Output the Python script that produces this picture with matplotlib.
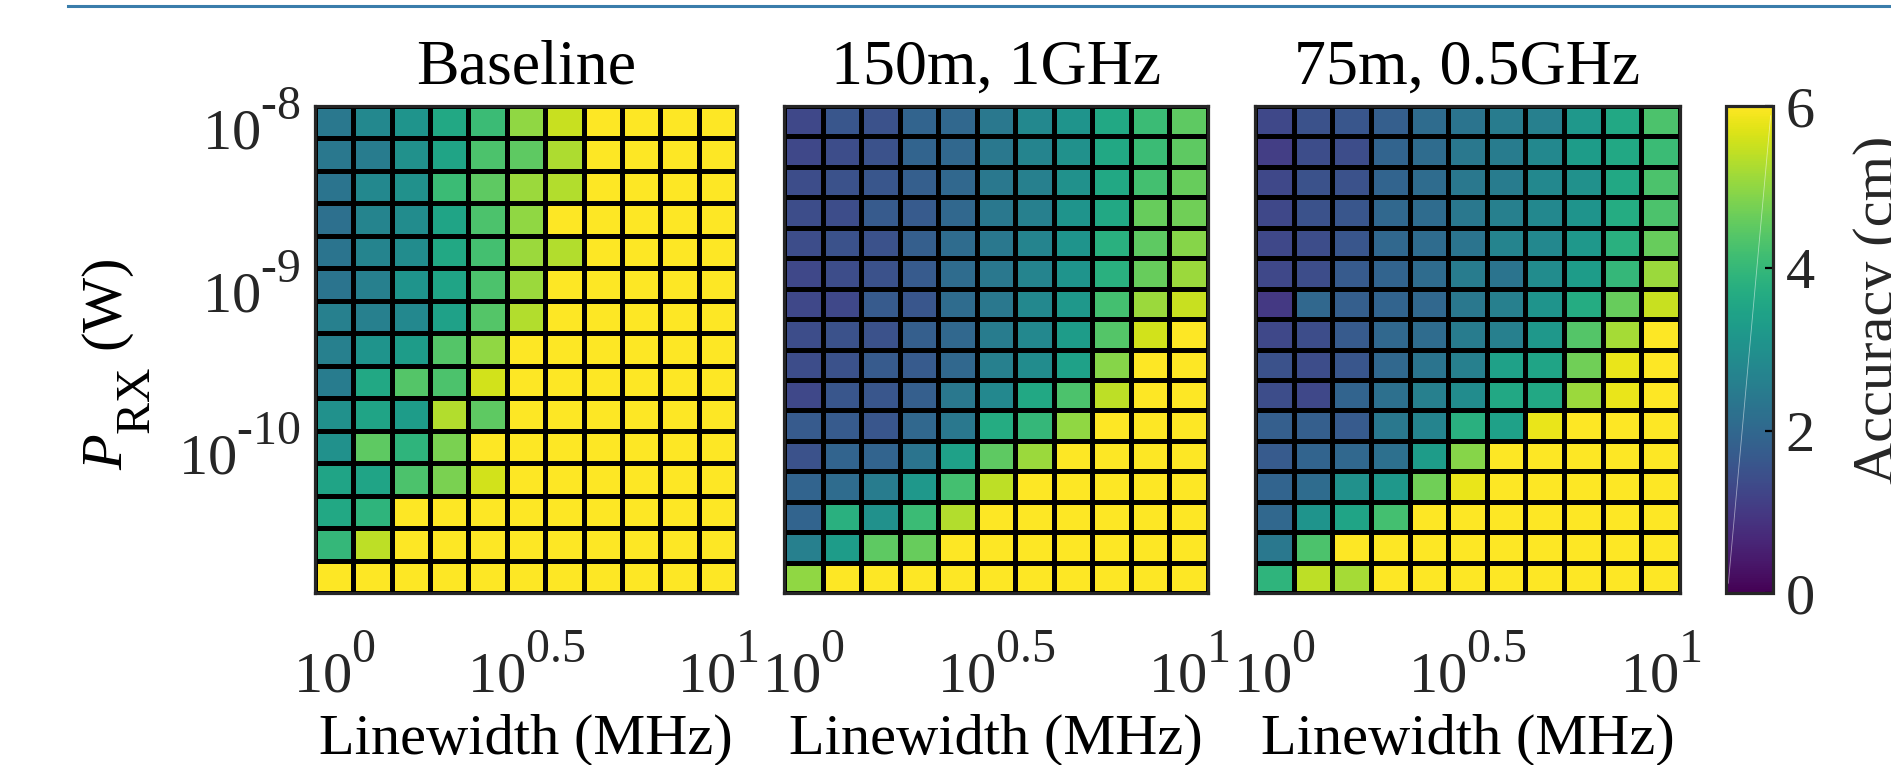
import numpy as np
import matplotlib
matplotlib.use("Agg")
import matplotlib.pyplot as plt
from matplotlib.lines import Line2D

# MATLAB-like scripts: bigger and further raised/lowered
try:
    import matplotlib._mathtext as _mt
    _mt.SHRINK_FACTOR = 0.82
    _mt.FontConstantsBase.sup1 = 1.18
    _mt.FontConstantsBase.sub1 = 1.1
except Exception:
    pass

plt.rcParams['font.family'] = ['Liberation Serif', 'DejaVu Serif']
plt.rcParams['mathtext.fontset'] = 'custom'
plt.rcParams['mathtext.rm'] = 'Liberation Serif'
plt.rcParams['mathtext.it'] = 'Liberation Serif:italic'
plt.rcParams['mathtext.bf'] = 'Liberation Serif:bold'

# ---------------- data ----------------
titles = ["Baseline", "150m, 1GHz", "75m, 0.5GHz"]
x_label = "Linewidth (MHz)"
y_label = r"$P_{\mathrm{RX}}$ (W)"
cbar_label = "Accuracy (cm)"

# log10 of linewidth (MHz) at column centres
lw_exp = [0.0, 0.1, 0.2, 0.3, 0.4, 0.5, 0.6, 0.7, 0.8, 0.9, 1.0]
# log10 of received power (W) at row centres, top row first
p_exp_baseline = [-8.0 - 0.2 * i for i in range(15)]
p_exp_other = [-8.0 - 0.2 * i for i in range(16)]

x_ticks = [1.0, 10 ** 0.5, 10.0]
x_ticklabels = [r"$10^{0}$", r"$10^{0.5}$", r"$10^{1}$"]
y_ticks = [1e-8, 1e-9, 1e-10]
y_ticklabels = [r"$10^{\text{-}8}$", r"$10^{\text{-}9}$", r"$10^{\text{-}10}$"]
cbar_ticks = [0, 2, 4, 6]

baseline = [
    [2.4, 2.8, 3.1, 3.6, 4.1, 5.0, 5.5, 6, 6, 6, 6],
    [2.4, 2.5, 3.0, 3.5, 4.3, 4.5, 5.25, 6, 6, 6, 6],
    [2.3, 2.8, 3.0, 4.1, 4.5, 5.1, 5.3, 6, 6, 6, 6],
    [2.2, 2.7, 2.9, 3.5, 4.3, 5.0, 6, 6, 6, 6, 6],
    [2.3, 2.7, 2.9, 3.6, 4.2, 5.1, 5.3, 6, 6, 6, 6],
    [2.3, 2.6, 3.1, 3.5, 4.3, 5.1, 6, 6, 6, 6, 6],
    [2.6, 2.6, 2.8, 3.4, 4.4, 5.3, 6, 6, 6, 6, 6],
    [2.6, 3.1, 3.3, 4.4, 5.0, 6, 6, 6, 6, 6, 6],
    [2.5, 3.6, 4.4, 4.3, 5.6, 6, 6, 6, 6, 6, 6],
    [3.0, 3.5, 3.3, 5.3, 4.5, 6, 6, 6, 6, 6, 6],
    [3.0, 4.5, 3.9, 4.8, 6, 6, 6, 6, 6, 6, 6],
    [3.5, 3.5, 4.3, 4.8, 5.6, 6, 6, 6, 6, 6, 6],
    [3.6, 3.9, 6, 6, 6, 6, 6, 6, 6, 6, 6],
    [4.0, 5.4, 6, 6, 6, 6, 6, 6, 6, 6, 6],
    [6, 6, 6, 6, 6, 6, 6, 6, 6, 6, 6],
]

range150_bw1 = [
    [1.3, 1.6, 1.5, 1.9, 2.0, 2.4, 2.8, 3.1, 3.6, 4.1, 4.5],
    [1.3, 1.4, 1.5, 1.9, 2.0, 2.4, 2.7, 3.0, 3.6, 4.1, 4.5],
    [1.4, 1.5, 1.6, 1.8, 2.0, 2.4, 2.6, 3.0, 3.6, 4.2, 4.6],
    [1.4, 1.4, 1.7, 1.7, 2.0, 2.4, 2.6, 3.1, 3.6, 4.6, 4.7],
    [1.4, 1.5, 1.5, 1.8, 2.1, 2.4, 2.7, 3.1, 3.8, 4.5, 4.9],
    [1.3, 1.4, 1.5, 1.7, 2.1, 2.4, 2.7, 3.1, 3.8, 4.6, 5.1],
    [1.3, 1.3, 1.7, 1.6, 2.1, 2.4, 2.8, 3.2, 4.2, 5.1, 5.5],
    [1.4, 1.5, 1.5, 1.8, 2.0, 2.5, 2.8, 3.3, 4.4, 5.6, 6],
    [1.4, 1.5, 1.7, 1.7, 2.0, 2.6, 2.9, 3.4, 4.9, 6, 6],
    [1.3, 1.6, 1.6, 1.8, 2.4, 2.8, 3.6, 4.3, 5.4, 6, 6],
    [1.7, 1.7, 1.6, 2.0, 2.4, 3.7, 4.0, 5.0, 6, 6, 6],
    [1.5, 1.9, 1.9, 2.3, 3.4, 4.5, 5.1, 6, 6, 6, 6],
    [1.9, 2.1, 2.5, 3.2, 4.2, 5.4, 6, 6, 6, 6, 6],
    [1.9, 3.8, 3.0, 4.1, 5.3, 6, 6, 6, 6, 6, 6],
    [2.6, 3.3, 4.5, 4.6, 6, 6, 6, 6, 6, 6, 6],
    [5.0, 6, 6, 6, 6, 6, 6, 6, 6, 6, 6],
]

range75_bw05 = [
    [1.3, 1.5, 1.6, 1.8, 2.1, 2.3, 2.5, 2.6, 3.2, 3.6, 4.3],
    [1.1, 1.4, 1.4, 1.9, 2.1, 2.4, 2.5, 2.8, 3.3, 3.6, 4.1],
    [1.3, 1.5, 1.5, 1.9, 2.1, 2.4, 2.5, 2.8, 3.0, 3.6, 4.3],
    [1.3, 1.5, 1.6, 2.0, 2.1, 2.4, 2.6, 2.8, 3.1, 3.7, 4.3],
    [1.3, 1.4, 1.6, 2.0, 2.1, 2.3, 2.7, 2.8, 3.2, 3.8, 4.6],
    [1.3, 1.4, 1.7, 1.9, 2.1, 2.5, 2.3, 2.9, 3.3, 4.0, 5.1],
    [1.0, 2.0, 1.8, 1.9, 2.0, 2.4, 2.6, 3.1, 3.7, 4.6, 5.5],
    [1.3, 1.4, 1.7, 2.0, 2.1, 2.5, 2.6, 3.2, 4.4, 5.2, 6],
    [1.5, 1.4, 1.6, 2.0, 2.3, 2.6, 3.4, 3.5, 4.7, 5.8, 6],
    [1.4, 1.3, 1.9, 2.2, 2.6, 2.9, 3.6, 3.6, 5.1, 5.8, 6],
    [1.8, 1.8, 1.7, 2.4, 2.7, 3.8, 3.4, 5.8, 6, 6, 6],
    [1.7, 1.9, 2.0, 2.2, 3.3, 4.9, 6, 6, 6, 6, 6],
    [1.9, 2.1, 3.0, 3.2, 4.7, 5.8, 6, 6, 6, 6, 6],
    [2.0, 3.1, 3.5, 4.2, 6, 6, 6, 6, 6, 6, 6],
    [2.4, 4.3, 6, 6, 6, 6, 6, 6, 6, 6, 6],
    [3.9, 5.4, 5.2, 6, 6, 6, 6, 6, 6, 6, 6],
]

panels = [(baseline, p_exp_baseline), (range150_bw1, p_exp_other), (range75_bw05, p_exp_other)]

# ---------------- figure ----------------
W, H = 1891, 765
fig = plt.figure(figsize=(W / 100, H / 100), dpi=100)

FS = 42
TFS = 46
edge_col = '#262626'

# axes rectangles in pixels: left, right, top, bottom
rects = [(315, 737, 106, 593), (784, 1208, 106, 593), (1255, 1680, 106, 593)]

def to_fig(l, r, t, b):
    return [l / W, 1 - b / H, (r - l) / W, (b - t) / H]

mesh = None
for k, ((vals, pexp), rect) in enumerate(zip(panels, rects)):
    ax = fig.add_axes(to_fig(*rect))
    lx = np.array(lw_exp)
    xedges = 10 ** np.concatenate([lx - 0.05, [lx[-1] + 0.05]])
    py = np.array(pexp)
    yedges = 10 ** np.concatenate([py + 0.1, [py[-1] - 0.1]])
    Z = np.array(vals, dtype=float)
    mesh = ax.pcolormesh(xedges, yedges, Z, cmap='viridis', vmin=0, vmax=6,
                         edgecolors='black', linewidth=2.3)
    ax.set_xscale('log')
    ax.set_yscale('log')
    ax.set_xlim(xedges[0], xedges[-1])
    ax.set_ylim(yedges[-1], yedges[0])
    ax.minorticks_off()
    ax.set_xticks(x_ticks)
    ax.set_xticklabels(x_ticklabels)
    ax.tick_params(axis='x', length=0, pad=32, labelsize=FS, colors='#262626')
    if k == 0:
        ax.set_yticks(y_ticks)
        ax.set_yticklabels(y_ticklabels)
        ax.tick_params(axis='y', length=0, pad=10, labelsize=FS, colors='#262626')
        ax.set_ylabel(y_label, fontsize=FS)
        ax.yaxis.set_label_coords(-0.385, 0.47)
    else:
        ax.set_yticks([])
    ax.set_xlabel(x_label, fontsize=FS)
    ax.xaxis.set_label_coords(0.5, -0.249)
    ax.set_title(titles[k], fontsize=TFS, pad=16)
    for s in ax.spines.values():
        s.set_linewidth(2.3)
        s.set_color(edge_col)

# colorbar
cax = fig.add_axes(to_fig(1726, 1773, 106, 593))
cb = fig.colorbar(mesh, cax=cax, ticks=cbar_ticks)
cb.outline.set_linewidth(2.3)
cb.outline.set_edgecolor(edge_col)
cax.tick_params(direction='in', length=6, width=1.6, color='black', pad=9,
                labelsize=FS, labelcolor='#262626')
cax.plot([0.05, 0.95], [0.02, 0.98], transform=cax.transAxes, color='white',
         lw=0.6, alpha=0.5)
fig.text(1853 / W, 1 - 310 / H, cbar_label, rotation=90, ha='left', va='center',
         fontsize=FS, color='#262626')

# thin page rule at the top
fig.add_artist(Line2D([68 / W, 1.0], [1 - 5.5 / H, 1 - 5.5 / H], color='#3a7dab', lw=2.2))

fig.savefig('out.png', dpi=100)
